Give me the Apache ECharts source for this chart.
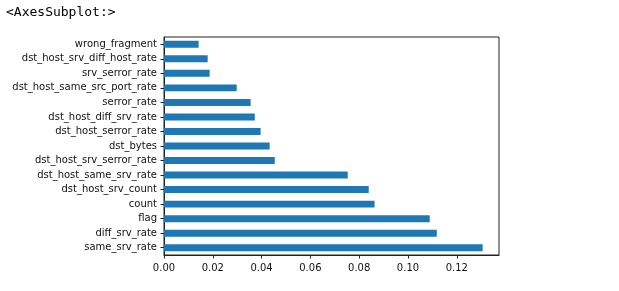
<!DOCTYPE html>
<html>
<head>
<meta charset="utf-8">
<script src="https://cdn.jsdelivr.net/npm/echarts@6/dist/echarts.min.js"></script>
<style>
html,body{margin:0;padding:0;background:#fff;}
#title{position:absolute;left:6px;top:4px;font-family:"DejaVu Sans Mono",monospace;font-size:13px;color:#000;}
#chart{position:absolute;left:0;top:0;width:619px;height:291px;}
</style>
</head>
<body>
<div id="chart"></div>
<div id="title">&lt;AxesSubplot:&gt;</div>
<script>
const categories = ["same_srv_rate","diff_srv_rate","flag","count","dst_host_srv_count","dst_host_same_srv_rate","dst_host_srv_serror_rate","dst_bytes","dst_host_serror_rate","dst_host_diff_srv_rate","serror_rate","dst_host_same_src_port_rate","srv_serror_rate","dst_host_srv_diff_host_rate","wrong_fragment"];
const values = [0.1306,0.1118,0.1089,0.0863,0.0839,0.0753,0.0454,0.0433,0.0396,0.0372,0.0355,0.0298,0.0187,0.0179,0.0142];
const xTicks = [0,0.02,0.04,0.06,0.08,0.10,0.12];

const chart = echarts.init(document.getElementById('chart'), null, {renderer:'canvas'});
chart.setOption({
  animation:false,
  grid:{left:164,top:37,width:335,height:218,show:true,borderColor:'#222',borderWidth:1,backgroundColor:'transparent'},
  xAxis:{type:'value',min:0,max:0.1373,interval:0.02,
    axisLine:{show:true,onZero:false,lineStyle:{color:'#222',width:1}},
    axisTick:{show:true,length:3.5,lineStyle:{color:'#222'}},
    splitLine:{show:false},
    axisLabel:{color:'#111',fontFamily:'DejaVu Sans',fontSize:10,margin:8,showMaxLabel:false,
      formatter:function(v){ return v.toFixed(2); }}
  },
  yAxis:{type:'category',data:categories,boundaryGap:true,
    axisLine:{show:true,lineStyle:{color:'#222',width:1}},
    axisTick:{show:true,alignWithLabel:true,length:3.5,lineStyle:{color:'#222'}},
    axisLabel:{color:'#111',fontFamily:'DejaVu Sans',fontSize:10,margin:7}
  },
  series:[{type:'bar',data:values,barWidth:'48%',itemStyle:{color:'#1f77b4'}}]
});
</script>
</body>
</html>
